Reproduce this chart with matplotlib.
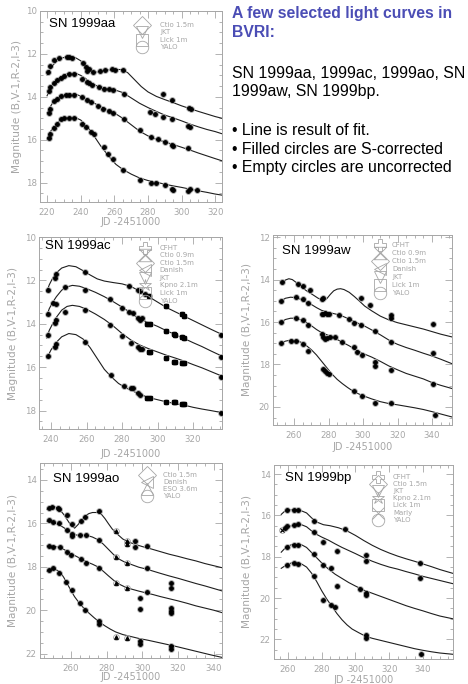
import matplotlib
matplotlib.use("Agg")
import matplotlib.pyplot as plt
from matplotlib.ticker import MultipleLocator, AutoMinorLocator

plt.rcParams['font.family'] = ['Liberation Sans', 'DejaVu Sans']

GRAY = '#a6a6a6'
BLUE = '#4b4db5'

# ---------------- SN 1999aa ----------------
aa_B = [(220.4, 12.85), (221.8, 12.55), (224.4, 12.28), (227.3, 12.2), (231.7, 12.13), (233, 12.15),
        (235, 12.2), (241.6, 12.4), (243, 12.62), (244, 12.78), (245, 12.7), (247.6, 12.85),
        (251.5, 12.8), (254.5, 12.76), (258.5, 12.72), (260.5, 12.74), (265, 12.73),
        (288.7, 13.86), (294.2, 14.15), (304.5, 14.52), (305.5, 14.55)]
aa_V = [(221, 13.75), (222, 13.55), (224, 13.35), (226, 13.2), (228, 13.1), (230, 13.02), (233, 12.95),
        (236, 12.95), (241, 13.15), (244, 13.3), (245, 13.35), (247, 13.45), (251, 13.55),
        (254, 13.62), (257, 13.65), (259, 13.68), (266, 13.88), (281, 14.72), (284, 14.82),
        (289, 14.95), (294, 15.05), (304, 15.35), (305, 15.42)]
aa_R = [(221, 14.75), (222, 14.55), (224, 14.2), (226, 14.08), (228, 13.95), (231, 13.9), (233, 13.9),
        (236, 13.92), (241, 14.02), (244, 14.15), (246, 14.25), (250, 14.45), (253, 14.55),
        (257, 14.68), (259, 14.75), (266, 15.05), (275, 15.55), (282, 15.85), (286, 15.95),
        (290, 16.1), (294, 16.25), (295, 16.3), (304, 16.4)]
aa_I = [(221, 15.9), (222, 15.75), (224, 15.45), (226, 15.25), (228, 15.05), (230, 15.0), (233, 14.97),
        (236, 15.0), (241, 15.25), (243, 15.4), (246, 15.65), (248, 15.75), (254, 16.35),
        (256, 16.65), (259, 16.9), (265, 17.4), (275, 17.88), (282, 18.02), (285, 18.02),
        (290, 18.12), (294, 18.3), (295, 18.35), (304, 18.38), (305, 18.3), (309, 18.32)]
aa_fit_B = [(220, 12.98), (222, 12.7), (224, 12.48), (226, 12.33), (228, 12.22), (231, 12.14), (234, 12.12),
            (237, 12.18), (240, 12.32), (243, 12.55), (246, 12.8), (248, 12.87), (251, 12.82),
            (255, 12.76), (260, 12.72), (265, 12.73), (268, 12.88), (272, 13.2), (276, 13.52),
            (280, 13.77), (285, 13.98), (290, 14.13), (295, 14.27), (300, 14.42), (305, 14.55),
            (310, 14.68), (315, 14.8), (320, 14.92), (324, 15.0)]
aa_fit_V = [(220, 13.95), (222, 13.6), (224, 13.35), (226, 13.18), (228, 13.06), (231, 12.95), (234, 12.9),
            (237, 12.9), (240, 13.0), (243, 13.15), (246, 13.35), (250, 13.5), (255, 13.6),
            (260, 13.67), (265, 13.8), (270, 14.05), (275, 14.3), (280, 14.5), (285, 14.68),
            (290, 14.85), (295, 14.98), (300, 15.12), (305, 15.27), (310, 15.4), (315, 15.52),
            (320, 15.62), (324, 15.72)]
aa_fit_R = [(220, 14.75), (222, 14.45), (224, 14.2), (226, 14.05), (228, 13.95), (231, 13.88), (234, 13.85),
            (237, 13.87), (240, 13.97), (243, 14.08), (246, 14.2), (250, 14.38), (255, 14.57),
            (260, 14.75), (265, 15.0), (270, 15.3), (275, 15.6), (280, 15.82), (285, 15.98),
            (290, 16.1), (295, 16.22), (300, 16.35), (305, 16.48), (310, 16.62), (315, 16.75),
            (320, 16.88), (324, 16.98)]
aa_fit_I = [(220, 15.95), (222, 15.62), (224, 15.38), (226, 15.22), (228, 15.08), (231, 14.98), (234, 14.95),
            (237, 14.97), (240, 15.08), (243, 15.3), (246, 15.6), (249, 15.95), (252, 16.3),
            (255, 16.6), (258, 16.9), (261, 17.15), (265, 17.38), (270, 17.6), (275, 17.78),
            (280, 17.9), (285, 17.98), (290, 18.07), (295, 18.15), (300, 18.22), (305, 18.3),
            (310, 18.38), (315, 18.45), (320, 18.53), (324, 18.58)]
aa_tel = ["Ctio 1.5m", "JKT", "Lick 1m", "YALO"]

# ---------------- SN 1999ac ----------------
ac_B = [(238, 12.45), (242, 11.9), (243, 11.72), (259, 11.6), (284, 12.28), (289, 12.42), (290, 12.5),
        (293, 12.65), (295, 12.72), (305, 13.2), (314, 13.55), (315, 13.65), (335.5, 14.5)]
ac_V = [(238, 13.55), (241, 13.05), (243, 13.1), (248, 12.3), (259, 12.45), (273, 12.88), (280, 13.25),
        (284, 13.45), (286, 13.5), (289, 13.72), (290, 13.82), (291, 13.75), (294, 14.0), (296, 14.0),
        (305, 14.35), (309, 14.45), (310, 14.5), (314, 14.62), (315, 14.65), (335.5, 15.55)]
ac_R = [(238, 14.5), (242, 13.98), (243, 13.82), (248, 13.45), (259, 13.35), (273, 14.05), (280, 14.58),
        (285, 14.88), (289, 15.05), (290, 15.18), (291, 15.15), (295, 15.3), (296, 15.3), (305, 15.6),
        (309, 15.75), (310, 15.75), (314, 15.82), (315, 15.8), (335.5, 16.45)]
ac_I = [(238, 15.5), (242, 15.05), (243, 14.92), (259, 14.85), (274, 16.38), (281, 16.85), (285, 16.95),
        (286, 16.98), (289, 17.2), (290, 17.3), (294, 17.4), (296, 17.42), (305, 17.6), (309, 17.62),
        (310, 17.6), (314, 17.72), (315, 17.7), (335.5, 18.1)]
ac_fit_B = [(237.5, 12.55), (239, 12.2), (241, 11.88), (243, 11.65), (246, 11.43), (250, 11.32), (254, 11.37),
            (258, 11.55), (262, 11.75), (266, 11.93), (270, 12.03), (275, 12.1), (280, 12.16),
            (285, 12.28), (290, 12.5), (295, 12.75), (300, 13.0), (305, 13.25), (310, 13.45),
            (315, 13.65), (320, 13.85), (325, 14.05), (330, 14.25), (336.5, 14.5)]
ac_fit_V = [(237.5, 13.65), (239, 13.3), (241, 13.0), (243, 12.75), (246, 12.45), (249, 12.3), (252, 12.23),
            (256, 12.27), (260, 12.38), (265, 12.55), (270, 12.75), (275, 12.98), (280, 13.23),
            (285, 13.5), (290, 13.78), (295, 13.95), (300, 14.12), (305, 14.32), (310, 14.5),
            (315, 14.68), (320, 14.87), (325, 15.05), (330, 15.25), (336.5, 15.5)]
ac_fit_R = [(237.5, 14.65), (239, 14.3), (241, 13.98), (243, 13.7), (246, 13.37), (249, 13.2), (252, 13.15),
            (256, 13.2), (260, 13.33), (265, 13.55), (270, 13.8), (275, 14.1), (280, 14.45),
            (285, 14.75), (290, 14.98), (295, 15.15), (300, 15.3), (305, 15.45), (310, 15.58),
            (315, 15.72), (320, 15.88), (325, 16.03), (330, 16.2), (336.5, 16.42)]
ac_fit_I = [(237.5, 15.6), (240, 15.2), (243, 14.85), (246, 14.6), (250, 14.45), (254, 14.5), (258, 14.7),
            (262, 15.1), (266, 15.6), (270, 16.1), (274, 16.45), (278, 16.75), (282, 16.95),
            (286, 17.1), (290, 17.25), (295, 17.4), (300, 17.5), (305, 17.6), (310, 17.68),
            (315, 17.75), (320, 17.85), (325, 17.93), (330, 18.0), (336.5, 18.1)]
ac_tel = ["CFHT", "Ctio 0.9m", "Ctio 1.5m", "Danish", "JKT", "Kpno 2.1m", "Lick 1m", "YALO"]
ac_lick_jd = [294, 295, 296, 305, 309, 310, 314, 315]

# ---------------- SN 1999aw ----------------
aw_B = [(253.2, 14.1), (262.3, 14.2), (265.2, 14.3), (269, 14.5), (276, 14.92), (277, 14.85),
        (299, 14.85), (304, 15.22), (316.5, 15.68), (316.5, 15.82), (340.5, 16.1)]
aw_V = [(252.5, 15.0), (261, 14.82), (265, 14.9), (268, 15.08), (276, 15.6), (277, 15.62), (278, 15.58),
        (279, 15.62), (280, 15.6), (286, 15.65), (292, 15.85), (295, 16.05), (299, 16.12),
        (307, 16.44), (316.3, 16.92), (340.5, 17.46)]
aw_R = [(252.5, 16.0), (261, 15.82), (265, 15.92), (268, 16.15), (276, 16.55), (277, 16.7), (278, 16.8),
        (279, 16.75), (281, 16.72), (284, 16.72), (288, 16.94), (294.5, 17.18), (296.5, 17.41),
        (299.3, 17.53), (307, 17.9), (307, 18.05), (316.3, 18.24), (340.5, 18.9)]
aw_I = [(252.5, 16.98), (258, 16.88), (261, 16.88), (265, 17.05), (268, 17.35), (277, 18.2), (278, 18.3),
        (279, 18.38), (280, 18.45), (294.5, 19.26), (299.3, 19.5), (307, 19.81), (316.3, 19.81),
        (341.5, 20.36)]
aw_fit_B = [(252.5, 14.2), (255, 14.02), (257, 13.96), (259, 14.0), (262, 14.18), (265, 14.4), (268, 14.57),
            (271, 14.72), (274, 14.88), (277, 14.98), (279, 14.9), (281, 14.7), (283, 14.53),
            (285, 14.45), (287, 14.43), (289, 14.47), (292, 14.6), (295, 14.8), (298, 15.02),
            (301, 15.25), (305, 15.47), (310, 15.72), (315, 15.9), (320, 16.03), (325, 16.13),
            (330, 16.23), (335, 16.33), (340, 16.45), (345, 16.57), (351.5, 16.7)]
aw_fit_V = [(252.5, 15.0), (255, 14.88), (258, 14.83), (261, 14.85), (264, 14.93), (267, 15.05), (270, 15.17),
            (273, 15.32), (276, 15.45), (280, 15.55), (284, 15.62), (288, 15.72), (292, 15.86),
            (296, 16.02), (300, 16.15), (305, 16.37), (310, 16.6), (316, 16.9), (320, 17.05),
            (325, 17.2), (330, 17.33), (335, 17.47), (340, 17.6), (345, 17.75), (351.5, 17.96)]
aw_fit_R = [(252.5, 16.0), (255, 15.88), (258, 15.82), (261, 15.82), (264, 15.9), (267, 16.02), (270, 16.17),
            (273, 16.35), (276, 16.5), (280, 16.63), (284, 16.78), (288, 16.95), (292, 17.12),
            (296, 17.32), (300, 17.48), (305, 17.65), (310, 17.85), (315, 18.07), (320, 18.25),
            (325, 18.42), (330, 18.55), (335, 18.68), (340, 18.85), (345, 18.98), (351.5, 19.13)]
aw_fit_I = [(252.5, 16.98), (255, 16.9), (258, 16.85), (261, 16.86), (264, 16.95), (267, 17.1), (270, 17.3),
            (273, 17.55), (276, 17.85), (279, 18.15), (282, 18.45), (285, 18.7), (288, 18.9),
            (291, 19.08), (295, 19.3), (300, 19.47), (305, 19.62), (310, 19.75), (315, 19.84),
            (320, 19.9), (325, 19.97), (330, 20.04), (335, 20.12), (340, 20.22), (345, 20.33),
            (351.5, 20.47)]
aw_tel = ["CFHT", "Ctio 0.9m", "Ctio 1.5m", "Danish", "JKT", "Lick 1m", "YALO"]

# ---------------- SN 1999ao ----------------
ao_B = [(247.8, 15.3), (249.5, 15.25), (252.5, 15.3), (253.5, 15.35), (257.6, 15.6), (260.5, 16.05),
        (265.5, 15.88), (268, 15.72), (275.9, 15.45), (285.3, 16.37), (291.3, 16.8), (291.3, 16.95),
        (296, 16.8), (296, 17.1), (302.5, 17.05)]
ao_V = [(247.8, 15.85), (250, 15.92), (253.4, 16.0), (257.6, 16.3), (260.4, 16.5), (260.4, 16.6),
        (265.1, 16.55), (268.4, 16.55), (275.9, 16.75), (285.3, 17.55), (291.3, 17.82), (302.5, 18.05),
        (316, 18.75), (316, 18.98)]
ao_R = [(247.8, 17.05), (250, 17.08), (253.8, 17.1), (257.6, 17.3), (260, 17.47), (265.5, 17.65),
        (268.4, 17.82), (275.9, 18.05), (285.3, 18.74), (291.3, 18.97), (298.4, 19.45), (298.4, 19.95),
        (302.5, 19.15), (316, 19.92), (316, 20.05), (316, 20.15)]
ao_I = [(247.8, 18.13), (250, 18.05), (253.4, 18.28), (257.2, 18.7), (260.4, 19.08), (265.1, 19.68),
        (267.9, 20.0), (275.9, 20.5), (275.9, 20.65), (285.3, 21.25), (291.3, 21.3), (298.4, 21.42),
        (298.4, 21.55), (316, 21.65), (316, 21.8)]
ao_fit_B = [(246.5, 15.35), (248, 15.3), (250, 15.22), (252, 15.28), (254, 15.4), (256, 15.6), (258, 15.85),
            (260, 16.1), (262, 16.22), (264, 16.05), (266, 15.82), (268, 15.65), (270, 15.55),
            (272, 15.5), (275, 15.5), (277, 15.58), (279, 15.78), (281, 16.02), (283, 16.25),
            (286, 16.5), (289, 16.72), (292, 16.85), (296, 16.97), (300, 17.07), (305, 17.18),
            (310, 17.3), (315, 17.42), (320, 17.52), (325, 17.63), (330, 17.73), (335, 17.85),
            (340, 17.95), (345, 18.05)]
ao_fit_V = [(246.5, 15.9), (248, 15.93), (250, 15.97), (252, 16.02), (254, 16.1), (256, 16.2), (258, 16.32),
            (260, 16.45), (262, 16.52), (264, 16.55), (266, 16.55), (268, 16.55), (270, 16.58),
            (272, 16.63), (275, 16.75), (278, 16.95), (281, 17.2), (284, 17.45), (287, 17.65),
            (290, 17.78), (294, 17.9), (298, 18.02), (302, 18.1), (306, 18.2), (310, 18.3),
            (315, 18.42), (320, 18.53), (325, 18.65), (330, 18.77), (335, 18.88), (340, 19.0),
            (345, 19.12)]
ao_fit_R = [(246.5, 17.05), (248, 17.05), (250, 17.05), (252, 17.08), (254, 17.13), (256, 17.2), (258, 17.3),
            (260, 17.4), (263, 17.52), (266, 17.65), (269, 17.78), (272, 17.88), (275, 18.0),
            (278, 18.2), (281, 18.42), (284, 18.63), (287, 18.8), (290, 18.92), (294, 19.03),
            (298, 19.12), (302, 19.2), (306, 19.28), (310, 19.37), (315, 19.47), (320, 19.57),
            (325, 19.68), (330, 19.8), (335, 19.9), (340, 20.0), (345, 20.12)]
ao_fit_I = [(246.5, 18.2), (248, 18.15), (250, 18.1), (252, 18.15), (254, 18.25), (256, 18.5), (258, 18.8),
            (260, 19.1), (262, 19.38), (264, 19.6), (266, 19.8), (268, 19.98), (270, 20.13),
            (273, 20.35), (276, 20.55), (279, 20.72), (282, 20.87), (285, 21.0), (289, 21.12),
            (293, 21.2), (298, 21.3), (303, 21.38), (308, 21.47), (313, 21.56), (318, 21.65),
            (323, 21.75), (328, 21.85), (333, 21.95), (338, 22.05), (345, 22.18)]
ao_tel = ["Ctio 1.5m", "Danish", "ESO 3.6m", "YALO"]
ao_eso_jd = [285.3, 291.3]

# ---------------- SN 1999bp ----------------
bp_B = [(259.4, 15.72), (263.4, 15.72), (266, 15.72), (275.2, 16.25), (293.6, 16.68), (338, 18.3)]
bp_V = [(256.5, 16.72), (258, 16.62), (259.4, 16.5), (263.4, 16.45), (266, 16.42), (275.2, 16.82),
        (280.8, 17.3), (289, 17.72), (306.3, 17.92), (306.3, 18.2), (338, 19.05)]
bp_R = [(259.4, 17.52), (263.4, 17.45), (266, 17.45), (275.2, 17.88), (280.8, 18.4), (285.7, 18.55),
        (289.2, 19.4), (302.5, 19.55), (306.4, 19.75), (306.4, 19.85)]
bp_I = [(259.4, 18.4), (263.4, 18.3), (266, 18.33), (275.2, 18.95), (280.8, 20.1), (285.7, 20.35),
        (288.1, 20.45), (306.4, 21.8), (306.4, 21.95), (339, 22.7)]
bp_fit_B = [(256, 15.95), (258, 15.8), (261, 15.74), (264, 15.72), (268, 15.78), (271, 15.88), (274, 16.12),
            (277, 16.32), (281, 16.45), (285, 16.5), (290, 16.6), (295, 16.75), (300, 16.97),
            (305, 17.22), (310, 17.45), (315, 17.65), (320, 17.82), (325, 17.97), (330, 18.1),
            (335, 18.22), (340, 18.35), (345, 18.48), (350, 18.62), (357.5, 18.8)]
bp_fit_V = [(256, 16.8), (259, 16.6), (262, 16.5), (265, 16.45), (268, 16.45), (271, 16.55), (274, 16.75),
            (277, 16.92), (280, 17.05), (284, 17.2), (288, 17.38), (292, 17.55), (296, 17.7),
            (300, 17.85), (305, 18.05), (310, 18.22), (315, 18.37), (320, 18.5), (325, 18.6),
            (330, 18.72), (335, 18.83), (340, 18.95), (345, 19.05), (350, 19.15), (357.5, 19.3)]
bp_fit_R = [(256, 17.78), (259, 17.52), (262, 17.42), (265, 17.4), (268, 17.42), (271, 17.55), (274, 17.8),
            (277, 18.05), (280, 18.3), (284, 18.6), (288, 18.85), (292, 19.05), (296, 19.25),
            (300, 19.42), (305, 19.62), (310, 19.77), (315, 19.92), (320, 20.07), (325, 20.22),
            (330, 20.37), (335, 20.5), (340, 20.62), (345, 20.75), (350, 20.87), (357.5, 21.0)]
bp_fit_I = [(256, 18.56), (259, 18.4), (262, 18.3), (265, 18.3), (268, 18.35), (271, 18.5), (274, 18.8),
            (277, 19.2), (280, 19.65), (283, 20.05), (286, 20.4), (289, 20.75), (292, 21.05),
            (295, 21.3), (298, 21.5), (302, 21.68), (306, 21.85), (310, 21.95), (315, 22.05),
            (320, 22.15), (325, 22.25), (330, 22.35), (335, 22.45), (340, 22.53), (345, 22.6),
            (350, 22.66), (357.5, 22.72)]
bp_tel = ["CFHT", "Ctio 1.5m", "JKT", "Kpno 2.1m", "Lick 1m", "Marly", "YALO"]
bp_marly_jd = [256.5]

# symbol of each telescope (IDL style)
hourglass = [(-1, 1), (1, 1), (-1, -1), (1, -1), (-1, 1)]
tel_marker = {"CFHT": "P", "Ctio 0.9m": hourglass, "Ctio 1.5m": "D", "Danish": "<", "JKT": "v",
              "Kpno 2.1m": "*", "Lick 1m": "s", "ESO 3.6m": "^", "Marly": "x", "YALO": "o"}


def draw_panel(ax, name, bands, fits, xlim, ylim, xmaj, ymaj, tel, leg, xlab_off, ylab_x,
               special=None):
    for fit in fits:
        ax.plot([p[0] for p in fit], [p[1] for p in fit], color='#1e1e1e', lw=0.8, zorder=2)
    for pts in bands:
        for jd, mag in pts:
            m = 'o'
            if special and jd in special[0]:
                m = special[1]
            ax.plot(jd, mag, marker='o', ms=4.2, mfc='none', mec=GRAY, mew=0.6, zorder=3)
            ax.plot(jd, mag, marker=m, ms=2.7, color='black', mew=0.8, zorder=4)
    ax.set_xlim(*xlim)
    ax.set_ylim(*ylim)
    ax.xaxis.set_major_locator(MultipleLocator(xmaj))
    ax.yaxis.set_major_locator(MultipleLocator(ymaj))
    ax.xaxis.set_minor_locator(AutoMinorLocator(4))
    ax.yaxis.set_minor_locator(AutoMinorLocator(4))
    ax.tick_params(which='both', direction='in', top=True, right=True, color=GRAY,
                   labelcolor=GRAY, labelsize=6.2, width=0.6)
    ax.tick_params(which='major', length=5)
    ax.tick_params(which='minor', length=2.5)
    ax.tick_params(axis='x', pad=4)
    ax.tick_params(axis='y', pad=2.5)
    for s in ax.spines.values():
        s.set_color(GRAY)
        s.set_linewidth(0.7)
    ax.set_xlabel("JD -2451000", fontsize=7, color=GRAY, family='DejaVu Sans')
    ax.set_ylabel("Magnitude (B,V-1,R-2,I-3)", fontsize=7.6, color=GRAY, family='DejaVu Sans')
    ax.xaxis.set_label_coords(0.5, xlab_off)
    ax.yaxis.set_label_coords(ylab_x, 0.5)
    for lab in ax.get_xticklabels() + ax.get_yticklabels():
        lab.set_family('DejaVu Sans')
    ax.text(leg[4], leg[5], name, transform=ax.transAxes, fontsize=9.5, color='black',
            va='top', ha='left')
    xs, xt, y0, dy = leg[:4]
    for i, t in enumerate(tel):
        y = y0 - i * dy
        ax.plot(xs, y, marker=tel_marker[t], ms=9, mfc='none', mec=GRAY, mew=0.6,
                transform=ax.transAxes, clip_on=False, zorder=5)
        ax.text(xt, y, t, transform=ax.transAxes, fontsize=5.0, color=GRAY, va='center',
                ha='left', family='DejaVu Sans')


fig = plt.figure(figsize=(4.68, 6.84), dpi=100)

ax1 = fig.add_axes([40 / 468, 1 - 202 / 684, 182 / 468, 191 / 684])
draw_panel(ax1, "SN 1999aa", [aa_B, aa_V, aa_R, aa_I], [aa_fit_B, aa_fit_V, aa_fit_R, aa_fit_I],
           (215.8, 324), (18.9, 10), 20, 2, aa_tel, (0.56, 0.66, 0.928, 0.039, 0.05, 0.965),
           -14 / 191 - 0.005, -0.099)

ax2 = fig.add_axes([39 / 468, 1 - 429 / 684, 183 / 468, 192 / 684])
draw_panel(ax2, "SN 1999ac", [ac_B, ac_V, ac_R, ac_I], [ac_fit_B, ac_fit_V, ac_fit_R, ac_fit_I],
           (233.2, 336.3), (18.85, 10), 20, 2, ac_tel, (0.58, 0.66, 0.945, 0.0395, 0.035, 0.985),
           -20 / 192, -0.115, special=(ac_lick_jd, 's'))

ax3 = fig.add_axes([273 / 468, 1 - 425 / 684, 179 / 468, 190 / 684])
draw_panel(ax3, "SN 1999aw", [aw_B, aw_V, aw_R, aw_I], [aw_fit_B, aw_fit_V, aw_fit_R, aw_fit_I],
           (247.8, 351.6), (20.85, 11.9), 20, 2, aw_tel, (0.60, 0.665, 0.947, 0.042, 0.05, 0.95),
           -17 / 190, -0.117)

ax4 = fig.add_axes([40 / 468, 1 - 658 / 684, 182 / 468, 195 / 684])
draw_panel(ax4, "SN 1999ao", [ao_B, ao_V, ao_R, ao_I], [ao_fit_B, ao_fit_V, ao_fit_R, ao_fit_I],
           (242.6, 344.6), (22.2, 13.22), 20, 2, ao_tel, (0.588, 0.676, 0.94, 0.037, 0.071, 0.95),
           -14 / 195, -0.121, special=(ao_eso_jd, '^'))

ax5 = fig.add_axes([274 / 468, 1 - 659 / 684, 179 / 468, 194 / 684])
draw_panel(ax5, "SN 1999bp", [bp_B, bp_V, bp_R, bp_I], [bp_fit_B, bp_fit_V, bp_fit_R, bp_fit_I],
           (251.7, 357.8), (22.95, 13.56), 20, 2, bp_tel, (0.58, 0.665, 0.94, 0.037, 0.061, 0.965),
           -16 / 194, -0.123, special=(bp_marly_jd, 'x'))

# text block
x0 = 232 / 468
fig.text(x0, 1 - 18 / 684, "A few selected light curves in", color=BLUE, fontsize=11.3,
         fontweight='bold', va='baseline')
fig.text(x0, 1 - 37 / 684, "BVRI:", color=BLUE, fontsize=11.3, fontweight='bold', va='baseline')
fig.text(x0, 1 - 78 / 684, "SN 1999aa, 1999ac, 1999ao, SN", color='black', fontsize=11.4, va='baseline')
fig.text(x0, 1 - 96 / 684, "1999aw, SN 1999bp.", color='black', fontsize=11.4, va='baseline')
fig.text(x0, 1 - 135 / 684, "\u2022 Line is result of fit.", color='black', fontsize=11.4, va='baseline')
fig.text(x0, 1 - 154 / 684, "\u2022 Filled circles are S-corrected", color='black', fontsize=11.4,
         va='baseline')
fig.text(x0, 1 - 172 / 684, "\u2022 Empty circles are uncorrected", color='black', fontsize=11.4,
         va='baseline')

fig.savefig("out.png", dpi=100)
